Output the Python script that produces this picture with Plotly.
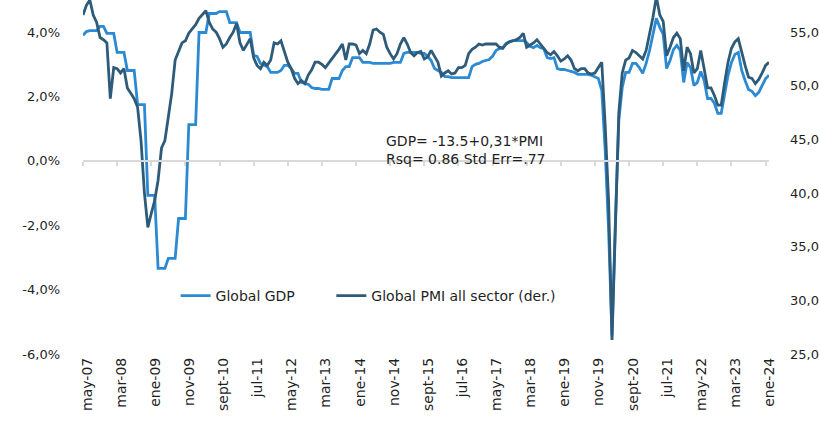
import plotly.graph_objects as go

# Spanish month abbreviations used on the axis
MESES = ["ene", "feb", "mar", "abr", "may", "jun", "jul", "ago", "sept", "oct", "nov", "dic"]

# monthly, may-07 .. feb-24
gdp = [
    3.90, 4.02, 4.05, 4.05, 4.05, 4.18, 4.18, 3.96, 3.96, 3.96,
    3.37, 3.37, 3.37, 2.81, 2.81, 2.81, 1.75, 1.75, 1.75, -1.07,
    -1.07, -1.07, -3.34, -3.34, -3.34, -3.03, -3.03, -3.03, -1.79, -1.79,
    -1.79, 1.13, 1.13, 1.13, 3.99, 3.99, 3.99, 4.58, 4.58, 4.58,
    4.64, 4.64, 4.64, 4.30, 4.30, 4.30, 3.99, 3.99, 3.99, 3.99,
    3.28, 3.25, 3.03, 2.97, 2.93, 2.75, 2.75, 2.75, 2.81, 2.97,
    2.97, 2.87, 2.72, 2.72, 2.44, 2.41, 2.38, 2.28, 2.25, 2.25,
    2.22, 2.22, 2.22, 2.56, 2.56, 2.56, 2.81, 2.93, 2.93, 3.21,
    3.21, 3.21, 3.06, 3.06, 3.06, 3.03, 3.03, 3.03, 3.03, 3.03,
    3.03, 3.06, 3.06, 3.06, 3.34, 3.37, 3.37, 3.37, 3.37, 3.34,
    3.34, 3.25, 3.12, 2.87, 2.81, 2.75, 2.62, 2.62, 2.59, 2.59,
    2.59, 2.59, 2.59, 2.59, 2.93, 3.00, 3.03, 3.09, 3.12, 3.15,
    3.25, 3.43, 3.49, 3.52, 3.65, 3.71, 3.74, 3.74, 3.74, 3.74,
    3.68, 3.56, 3.52, 3.59, 3.52, 3.49, 3.21, 3.18, 3.21, 2.87,
    2.84, 2.84, 2.81, 2.78, 2.75, 2.69, 2.69, 2.69, 2.69, 2.66,
    2.62, 2.56, 2.19, 0.33, -2.16, -5.42, -1.85, 1.26, 2.28, 2.75,
    2.75, 3.03, 3.03, 2.90, 2.72, 3.03, 3.43, 3.99, 4.43, 4.15,
    3.93, 2.87, 3.12, 3.46, 3.59, 3.43, 2.44, 3.06, 2.90, 2.34,
    2.44, 2.78, 2.50, 1.94, 1.94, 1.79, 1.48, 1.48, 2.10, 2.66,
    3.06, 3.31, 3.37, 2.81, 2.50, 2.22, 2.16, 2.03, 2.13, 2.34,
    2.56, 2.66,
]

pmi = [
    56.6, 57.5, 58.0, 56.6, 55.9, 54.5, 54.3, 54.0, 48.8, 51.7,
    51.6, 51.2, 51.6, 49.8, 49.3, 48.8, 48.0, 44.9, 40.0, 36.8,
    38.1, 39.3, 41.2, 44.2, 44.9, 47.1, 49.3, 52.4, 53.3, 54.0,
    54.2, 54.9, 55.3, 55.7, 56.3, 56.7, 57.0, 55.9, 55.3, 55.0,
    54.4, 53.6, 53.9, 54.5, 55.0, 55.8, 54.0, 53.3, 53.8, 54.4,
    52.6, 51.9, 51.6, 52.2, 51.9, 52.4, 54.0, 53.9, 54.2, 53.1,
    52.2, 51.6, 50.7, 50.2, 50.5, 50.2, 51.0, 51.5, 52.2, 52.2,
    52.0, 51.7, 52.1, 52.5, 52.9, 53.4, 53.9, 52.4, 53.9, 53.9,
    53.8, 53.0, 53.3, 53.0, 53.9, 55.2, 55.3, 55.0, 54.8, 53.6,
    53.0, 52.5, 53.0, 53.9, 54.5, 53.9, 53.1, 52.8, 53.1, 53.2,
    52.5, 52.7, 53.3, 52.8, 52.2, 50.9, 51.2, 51.4, 51.1, 51.2,
    51.7, 51.7, 51.9, 53.0, 53.4, 53.6, 53.9, 53.8, 53.9, 53.9,
    53.9, 53.9, 53.6, 53.5, 53.9, 54.1, 54.2, 54.3, 54.5, 54.9,
    53.6, 53.8, 54.0, 54.3, 53.9, 53.5, 53.1, 52.9, 53.2, 52.8,
    52.3, 52.5, 52.8, 52.4, 51.6, 51.4, 51.6, 51.6, 51.2, 51.1,
    51.2, 51.7, 52.2, 46.3, 39.3, 26.3, 36.2, 47.5, 51.2, 52.4,
    52.6, 53.3, 53.1, 52.8, 52.5, 53.3, 54.7, 56.4, 58.3, 56.6,
    56.0, 52.8, 53.6, 54.5, 54.9, 54.4, 51.4, 53.6, 53.0, 51.2,
    51.6, 53.3, 51.6, 49.8, 49.8, 49.1, 48.2, 48.2, 50.3, 52.2,
    53.5, 54.1, 54.4, 53.0, 51.9, 50.8, 50.7, 50.2, 50.6, 51.2,
    51.9, 52.2,
]

months = [f"{MESES[(4 + k) % 12]}-{(2007 * 12 + 4 + k) // 12 % 100:02d}" for k in range(len(gdp))]
tick_months = months[::10]

gdp_ticks = [-6, -4, -2, 0, 2, 4]
gdp_ticktext = ["-6,0%", "-4,0%", "-2,0%", "0,0%", "2,0%", "4,0%"]
pmi_ticks = [25, 30, 35, 40, 45, 50, 55]
pmi_ticktext = ["25,0", "30,0", "35,0", "40,0", "45,0", "50,0", "55,0"]

FONT = "DejaVu Sans"
TXT = "#1f1f1f"
AXIS = "#d9d9d9"

fig = go.Figure()
fig.add_trace(go.Scatter(x=months, y=gdp, mode="lines", name="Global GDP", legend="legend",
                         line=dict(color="#2b8ad2", width=2.8)))
fig.add_trace(go.Scatter(x=months, y=pmi, mode="lines", name="Global PMI all sector (der.)",
                         yaxis="y2", legend="legend2", line=dict(color="#2e5b79", width=2.8)))
# empty trace so the zero-crossing axis (line + tick marks) is drawn
fig.add_trace(go.Scatter(x=[], y=[], xaxis="x2", showlegend=False, hoverinfo="skip"))

fig.add_annotation(
    text="GDP= -13.5+0,31*PMI<br>Rsq= 0.86 Std Err=.77",
    xref="paper", yref="paper", x=0.439, y=0.575, xanchor="left", yanchor="middle",
    align="left", showarrow=False, font=dict(family=FONT, size=14, color=TXT),
)

leg = dict(orientation="h", y=0.164, xanchor="left", yanchor="middle",
           bgcolor="rgba(0,0,0,0)", font=dict(family=FONT, size=14, color=TXT))

fig.update_layout(
    width=819, height=421,
    margin=dict(l=83, r=50, t=0, b=67, autoexpand=False),
    paper_bgcolor="white", plot_bgcolor="white",
    font=dict(family=FONT, size=13, color=TXT),
    showlegend=True,
    legend=dict(leg, x=0.135),
    legend2=dict(leg, x=0.362),
    xaxis=dict(type="category", categoryarray=months, range=[0, len(months) - 1],
               tickvals=tick_months, ticktext=tick_months, tickangle=-90,
               tickfont=dict(size=14), ticklabelshift=4,
               showgrid=False, showline=False, zeroline=False, ticks="", automargin=False),
    xaxis2=dict(overlaying="x", anchor="free", position=6 / 11, range=[0, len(months) - 1],
                tick0=0, dtick=10, showticklabels=False, showgrid=False, zeroline=False,
                showline=True, linecolor=AXIS, linewidth=2, automargin=False,
                ticks="outside", ticklen=4, tickcolor=AXIS, tickwidth=1.5),
    yaxis=dict(range=[-6, 5], tickvals=gdp_ticks, ticktext=gdp_ticktext, automargin=False,
               showgrid=False, zeroline=False, showline=False, ticklabelstandoff=22),
    yaxis2=dict(overlaying="y", side="right", range=[25, 58], tickvals=pmi_ticks,
                ticktext=pmi_ticktext, showgrid=False, zeroline=False, showline=False,
                automargin=False, ticklabelstandoff=20),
)

# page body has an 8px default margin; drop it so the chart sits at the window corner
fig.write_html("out.html", config={"displayModeBar": False},
               post_script="document.body.style.margin='0px';")
